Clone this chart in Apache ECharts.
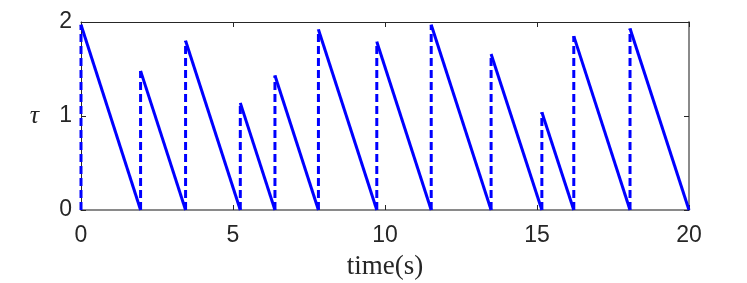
<!DOCTYPE html>
<html><head><meta charset="utf-8">
<script src="https://cdn.jsdelivr.net/npm/echarts@6/dist/echarts.min.js"></script>
<style>html,body{margin:0;padding:0;background:#fff}#c{width:747px;height:283px}</style>
</head><body><div id="c"></div>
<script>
// jump times, peak values after each jump, and times where each ramp reaches zero
const jumpTimes = [0, 1.96, 3.44, 5.24, 6.38, 7.81, 9.73, 11.52, 13.49, 15.16, 16.21, 18.06];
const peaks     = [1.97, 1.48, 1.80, 1.14, 1.43, 1.92, 1.79, 1.97, 1.66, 1.04, 1.85, 1.93];
const zeroTimes = [1.96, 3.44, 5.24, 6.38, 7.81, 9.73, 11.52, 13.49, 15.16, 16.21, 18.06, 20.0];
const xTicks = [0, 5, 10, 15, 20];
const yTicks = [0, 1, 2];

const blue = '#0000ff';
const series = [];
for (let i = 0; i < jumpTimes.length; i++) {
  series.push({
    type: 'line', xAxisIndex: 0, yAxisIndex: 0, symbol: 'none', animation: false,
    lineStyle: {color: blue, width: 3, type: [8, 4]}, z: 3,
    data: [[jumpTimes[i], 0], [jumpTimes[i], peaks[i]]]
  });
  series.push({
    type: 'line', xAxisIndex: 0, yAxisIndex: 0, symbol: 'none', animation: false,
    lineStyle: {color: blue, width: 3}, z: 4,
    data: [[jumpTimes[i], peaks[i]], [zeroTimes[i], 0]]
  });
}
// dummy series so the mirrored top/right axes are drawn
series.push({type: 'line', xAxisIndex: 1, yAxisIndex: 1, symbol: 'none', data: [], silent: true});

const dark = '#262626';
const gray = '#8a8a8a';
const chart = echarts.init(document.getElementById('c'));
chart.setOption({
  animation: false,
  grid: {left: 81, right: 58, top: 22, bottom: 73, show: false, containLabel: false, outerBoundsMode: 'none'},
  xAxis: [{
    show: true, type: 'value', min: xTicks[0], max: xTicks[xTicks.length-1], interval: 5, position: 'bottom',
    name: 'time(s)', nameLocation: 'middle', nameGap: 43,
    nameTextStyle: {fontFamily: 'Liberation Serif', fontSize: 27, color: dark},
    axisLine: {show: true, onZero: false, lineStyle: {color: gray, width: 2}},
    axisTick: {show: true, inside: true, length: 5, lineStyle: {color: dark}},
    axisLabel: {fontFamily: 'Liberation Sans', fontSize: 23, color: dark, margin: 14},
    splitLine: {show: false}
  }, {
    show: true, type: 'value', min: 0, max: 20, interval: 5, position: 'top',
    axisLine: {show: true, onZero: false, lineStyle: {color: dark, width: 1}},
    axisTick: {show: true, inside: true, length: 5, lineStyle: {color: dark}},
    axisLabel: {show: false}, splitLine: {show: false}
  }],
  yAxis: [{
    show: true, type: 'value', min: yTicks[0], max: yTicks[yTicks.length-1], interval: 1, position: 'left',
    name: 'τ', nameLocation: 'middle', nameGap: 42, nameRotate: 0,
    nameTextStyle: {fontFamily: 'Liberation Serif', fontStyle: 'italic', fontSize: 26, color: dark},
    axisLine: {show: true, onZero: false, lineStyle: {color: dark, width: 1}},
    axisTick: {show: true, inside: true, length: 5, lineStyle: {color: dark}},
    axisLabel: {fontFamily: 'Liberation Sans', fontSize: 23, color: dark, margin: 9},
    splitLine: {show: false}
  }, {
    show: true, type: 'value', min: 0, max: 2, interval: 1, position: 'right',
    axisLine: {show: true, onZero: false, lineStyle: {color: gray, width: 2}},
    axisTick: {show: true, inside: true, length: 5, lineStyle: {color: dark}},
    axisLabel: {show: false}, splitLine: {show: false}
  }],
  series: series
});
</script></body></html>
